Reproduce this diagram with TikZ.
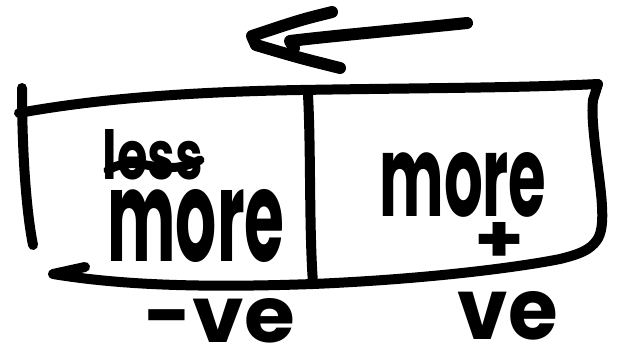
\documentclass[tikz,border=0pt]{standalone}
\usepackage{fontspec}
\setmainfont{Poppins}
\begin{document}
\begin{tikzpicture}[x=1pt,y=-1pt,
  pen/.style={line width=10pt,line cap=round,line join=round},
  thickpen/.style={line width=12pt,line cap=round,line join=round},
  word/.style={inner sep=0pt,font=\bfseries}]
\useasboundingbox (0,0) rectangle (617,359);
% top arrow
\coordinate (ashaftR) at (467,23);
\coordinate (ashaftL) at (290,41);
\coordinate (ahook) at (294,48);
\coordinate (abarbU) at (332,12);
\coordinate (atip1) at (252,36);
\coordinate (atip2) at (256,45);
\coordinate (abarbD) at (340,68);
\draw[thickpen] (ashaftR) .. controls (400,30) and (330,36) .. (ashaftL) -- (ahook);
\draw[thickpen] (abarbU) .. controls (300,20) .. (atip1) -- (atip2) .. controls (300,58) .. (abarbD);
% box
\coordinate (tl) at (19,113);
\coordinate (tm) at (300,90);
\coordinate (tr) at (598,84);
\coordinate (ltop) at (22,88);
\coordinate (lbot) at (33,245);
\coordinate (dtop) at (308,95);
\coordinate (dbot) at (313,283);
\coordinate (brc) at (597,240);
\coordinate (bm) at (313,284);
\coordinate (bl) at (53,274);
\coordinate (barb) at (85,267);
\draw[pen] (tl) .. controls (90,100) and (180,92) .. (tm) .. controls (420,88) and (520,88) .. (tr);
\draw[pen] (ltop) .. controls (22,150) and (26,210) .. (lbot);
\draw[pen] (dtop) .. controls (311,150) and (309,230) .. (dbot);
\draw[pen] (tr) -- (593,100) .. controls (590,125) and (601,180) .. (602,207)
  .. controls (603,225) and (601,234) .. (brc)
  .. controls (590,250) and (580,254) .. (560,259)
  .. controls (520,267) and (430,279) .. (bm);
\draw[pen] (bm) .. controls (200,288) and (120,285) .. (bl) -- (barb);
% texts
\node[word] (less) at (153,155) {\resizebox{100pt}{50pt}{less}};
\draw[line width=9pt,line cap=round] (108,170) .. controls (140,152) and (160,180) .. (200,160);
\node[word] (lmore) at (196,226) {\resizebox{177pt}{72pt}{more}};
\node[word] (rmore) at (463,185) {\resizebox{167pt}{64pt}{more}};
\node[word] (plus) at (500,242) {\resizebox{50pt}{40pt}{+}};
\node[word] (neg) at (220,321) {\resizebox{150pt}{44pt}{-ve}};
\node[word] (pos) at (508,316) {\resizebox{100pt}{48pt}{ve}};
\end{tikzpicture}
\end{document}
